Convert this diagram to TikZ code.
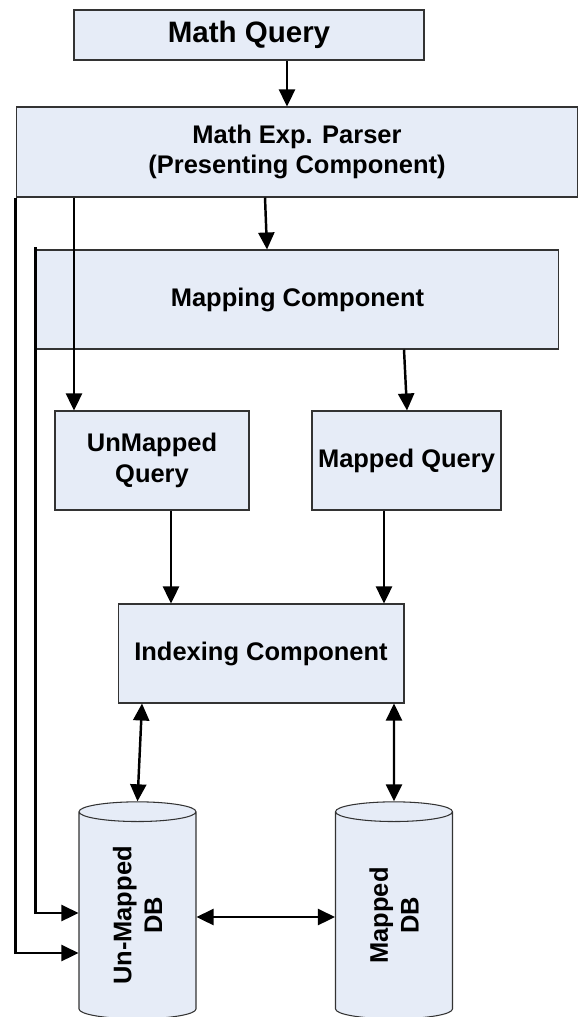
\documentclass[tikz,border=0pt]{standalone}
\usepackage{fontspec}
\setmainfont{Liberation Sans}
\usetikzlibrary{arrows.meta,shapes.geometric}
\definecolor{boxfill}{RGB}{230,236,247}
\begin{document}
\begin{tikzpicture}[x=0.02cm, y=-0.02cm,
    every node/.style={font=\fontsize{14.5}{17.5}\selectfont\bfseries, align=center},
    box/.style={draw=black!80, line width=0.6pt, fill=boxfill, inner sep=0pt},
    db/.style={cylinder, rotate=90, aspect=0.4, draw=black!80, line width=0.6pt, fill=boxfill,
        minimum height=4.34cm, minimum width=2.34cm, inner sep=0pt},
    arr/.style={line width=1.4pt, -{Triangle[length=0.34cm, width=0.32cm]}},
    darr/.style={line width=1.4pt, {Triangle[length=0.34cm, width=0.32cm]}-{Triangle[length=0.34cm, width=0.32cm]}}]
    \useasboundingbox (0,0) rectangle (580,1017);

    % boxes
    \node[box, line width=1.2pt, minimum width=7cm, minimum height=1cm,
          font=\fontsize{16.8}{20}\selectfont\bfseries] (query) at (249,35) {Math Query};
    \node[box, minimum width=11.24cm, minimum height=1.8cm] (parser) at (297,152)
        {Math Exp. Parser\\(Presenting Component)};
    \node[box, minimum width=10.46cm, minimum height=1.98cm] (mapping) at (297.5,299.5) {Mapping Component};
    \node[box, minimum width=3.88cm, minimum height=1.98cm] (unmapped) at (152,460.5) {UnMapped\\Query};
    \node[box, minimum width=3.78cm, minimum height=1.98cm] (mappedq) at (406.5,460.5) {Mapped Query};
    \node[box, minimum width=5.72cm, minimum height=1.98cm] (indexing) at (261,653.5) {Indexing Component};

    % databases
    \node[db] (udb) at (137.5,915.5) {Un-Mapped\\DB};
    \node[db] (mdb) at (394,915.5) {Mapped\\DB};

    % flow
    \draw[arr] (query.south -| 287,0) -- (parser.north -| 287,0);
    \draw[arr] (parser.south -| 265,0) -- (mapping.north -| 267,0);
    \draw[arr] (parser.south -| 74,0) -- (unmapped.north -| 74,0);
    \draw[arr] (mapping.south -| 404,0) -- (mappedq.north -| 407,0);
    \draw[arr] (unmapped.south -| 171,0) -- (indexing.north -| 171,0);
    \draw[arr] (mappedq.south -| 384,0) -- (indexing.north -| 384,0);
    \draw[darr] (indexing.south -| 142,0) -- (udb.east);
    \draw[darr] (indexing.south -| 394,0) -- (mdb.east);
    \draw[darr] (udb.south |- 0,917) -- (mdb.north |- 0,917);

    % bypass lines
    \draw[arr] (parser.south west) |- (udb.north |- 0,953);
    \draw[arr] ([yshift=0.04cm]mapping.north west) |- (udb.north |- 0,913);
\end{tikzpicture}
\end{document}
